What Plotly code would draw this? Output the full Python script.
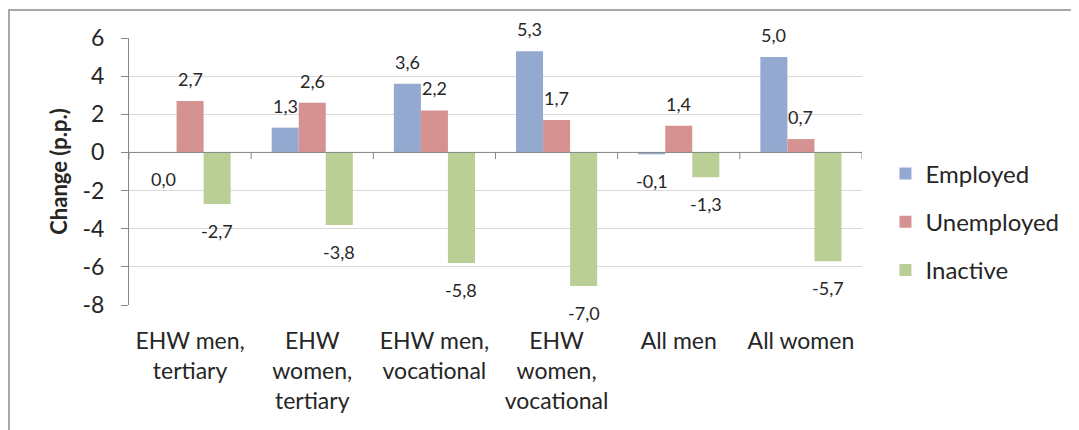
import plotly.graph_objects as go

# data
categories = ["EHW men,<br>tertiary", "EHW<br>women,<br>tertiary",
              "EHW men,<br>vocational", "EHW<br>women,<br>vocational",
              "All men", "All women"]
employed = [0.0, 1.3, 3.6, 5.3, -0.1, 5.0]
unemployed = [2.7, 2.6, 2.2, 1.7, 1.4, 0.7]
inactive = [-2.7, -3.8, -5.8, -7.0, -1.3, -5.7]
series = [("Employed", employed, "#93a9d0"),
          ("Unemployed", unemployed, "#d59291"),
          ("Inactive", inactive, "#b9cf95")]
y_ticks = [6, 4, 2, 0, -2, -4, -6, -8]

FONT = "Lato"
TXT = "#262626"
bargap = 0.336
n_cat = len(categories)
x_idx = list(range(n_cat))

fig = go.Figure()

# bars
for k, (name, vals, col) in enumerate(series):
    fig.add_trace(go.Bar(
        x=x_idx, y=vals, name=name, marker=dict(color=col, line_width=0),
        legendgroup=name))

# data labels (Excel style, outside end)
annotations = []
w = (1 - bargap) / len(series)
for k, (name, vals, col) in enumerate(series):
    for i, v in enumerate(vals):
        annotations.append(dict(
            x=i + (k - 1) * w, y=v, xref="x", yref="y",
            text=f"{v:.1f}".replace(".", ","), showarrow=False,
            font=dict(family=FONT, size=18, color=TXT),
            yshift=22 if v > 0 else -27))

# small tick marks on the zero line between categories
shapes = []
for i in range(n_cat + 1):
    shapes.append(dict(type="line", x0=i - 0.5, x1=i - 0.5, y0=0, y1=-0.35,
                       xref="x", yref="y", line=dict(color="#868686", width=1)))
# zero line
shapes.append(dict(type="line", x0=-0.5, x1=n_cat - 0.5, y0=0, y1=0,
                   xref="x", yref="y", line=dict(color="#868686", width=1)))
# outer chart frame
shapes.append(dict(type="rect", xref="paper", yref="paper",
                   x0=-0.1637, x1=1.4, y0=-0.5, y1=1.105,
                   line=dict(color="#8c8c8c", width=1.5), layer="below"))

fig.update_layout(
    width=1071, height=422,
    margin=dict(l=121, r=217, t=30, b=125),
    plot_bgcolor="white", paper_bgcolor="white",
    barmode="group", bargap=bargap, bargroupgap=0,
    font=dict(family=FONT, color=TXT),
    showlegend=True,
    legend=dict(x=1.032, xanchor="left", y=0.575, yanchor="top",
                font=dict(family=FONT, size=24, color=TXT),
                traceorder="grouped", tracegroupgap=14,
                bgcolor="rgba(0,0,0,0)"),
    annotations=annotations, shapes=shapes,
)
fig.update_xaxes(
    tickmode="array", tickvals=x_idx, ticktext=categories,
    range=[-0.5, n_cat - 0.5], showgrid=False, zeroline=False,
    showline=False, ticks="", ticklabelstandoff=20,
    tickfont=dict(family=FONT, size=23, color=TXT))
fig.update_yaxes(
    range=[-8, 6], tickmode="array", tickvals=y_ticks,
    ticktext=[str(t) for t in y_ticks],
    showgrid=True, gridcolor="#d9d9d9",
    gridwidth=1, zeroline=False, showline=True, linecolor="#868686",
    ticks="outside", ticklen=7, tickcolor="#868686", ticklabelstandoff=12,
    tickfont=dict(family=FONT, size=23, color=TXT),
    title=dict(text="<b>Change (p.p.)</b>", standoff=8,
               font=dict(family=FONT, size=22, color=TXT)))

fig.write_html("out.html")
